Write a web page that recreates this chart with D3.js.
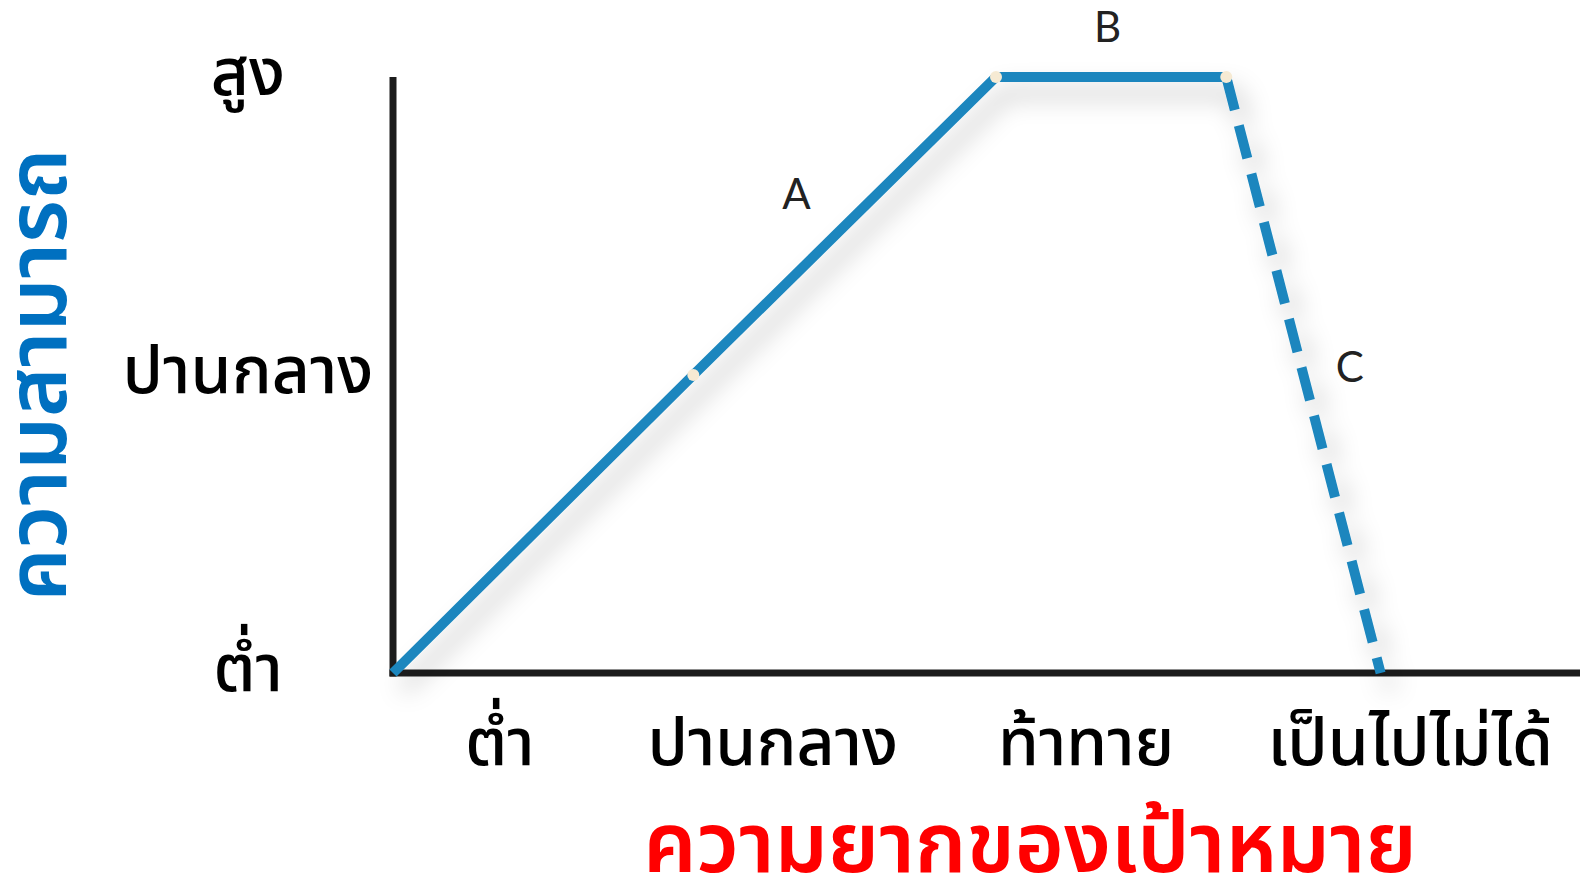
<!DOCTYPE html>
<html>
<head>
<meta charset="utf-8">
<script src="https://cdn.jsdelivr.net/npm/d3@7"></script>
<style>
  body { margin: 0; background: #fff; }
  #chart text { font-family: "Noto Sans Thai", "Noto Sans Thai UI", "Noto Sans", sans-serif; }
</style>
</head>
<body>
<div id="chart"></div>
<script>
// difficulty / ability both on a 0-100 scale
const xLabels = ["ต่ำ", "ปานกลาง", "ท้าทาย", "เป็นไปไม่ได้"];
const xLabelPos = [9, 32, 58.4, 85.7];
const yLabels = ["ต่ำ", "ปานกลาง", "สูง"];
const yLabelPos = [0, 50, 100];

const solidPts = [{ x: 0, y: 0 }, { x: 25.3, y: 50 }, { x: 50.8, y: 100 }, { x: 70.2, y: 100 }];
const dashPts = [{ x: 70.2, y: 100 }, { x: 83.2, y: 0 }];
const jointPts = [{ x: 25.3, y: 50 }, { x: 50.8, y: 100 }, { x: 70.2, y: 100 }];
const segLabels = [
  { t: "A", x: 34, y: 80.5 },
  { t: "B", x: 60.2, y: 108.5 },
  { t: "C", x: 80.6, y: 51.5 }
];

const xTitle = "ความยากของเป้าหมาย";
const yTitle = "ความสามารถ";

const width = 1580, height = 875;
const x0 = 393, yBase = 673, yTop = 77;

const xScale = d3.scaleLinear().domain([0, 100]).range([x0, width]);
const yScale = d3.scaleLinear().domain([0, 100]).range([yBase, yTop]);

const svg = d3.select("#chart").append("svg")
    .attr("width", width)
    .attr("height", height);

svg.append("rect").attr("width", width).attr("height", height).attr("fill", "#fff");

const defs = svg.append("defs");
defs.append("filter")
    .attr("id", "shadow")
    .attr("x", "-20%").attr("y", "-20%").attr("width", "140%").attr("height", "140%")
  .append("feDropShadow")
    .attr("dx", 10).attr("dy", 16)
    .attr("stdDeviation", 12)
    .attr("flood-color", "#000")
    .attr("flood-opacity", 0.22);

// axes
svg.append("line")
    .attr("x1", xScale(0)).attr("x2", xScale(0))
    .attr("y1", yScale(100)).attr("y2", yScale(0) + 3.5)
    .attr("stroke", "#1c1c1c").attr("stroke-width", 7);
svg.append("line")
    .attr("x1", xScale(0) - 3.5).attr("x2", xScale(100))
    .attr("y1", yScale(0)).attr("y2", yScale(0))
    .attr("stroke", "#1c1c1c").attr("stroke-width", 7);

const line = d3.line().x(d => xScale(d.x)).y(d => yScale(d.y));

const lineG = svg.append("g").attr("filter", "url(#shadow)");
lineG.append("path")
    .datum(solidPts)
    .attr("d", line)
    .attr("fill", "none")
    .attr("stroke", "#1b86be")
    .attr("stroke-width", 10)
    .attr("stroke-linejoin", "miter");
lineG.append("path")
    .datum(dashPts)
    .attr("d", line)
    .attr("fill", "none")
    .attr("stroke", "#1b86be")
    .attr("stroke-width", 10)
    .attr("stroke-dasharray", "34,16");

svg.selectAll(".joint")
  .data(jointPts)
  .join("circle")
    .attr("cx", d => xScale(d.x))
    .attr("cy", d => yScale(d.y))
    .attr("r", 6)
    .attr("fill", "#f6ead3");

svg.selectAll(".seg")
  .data(segLabels)
  .join("text")
    .attr("x", d => xScale(d.x))
    .attr("y", d => yScale(d.y))
    .attr("text-anchor", "middle")
    .attr("dominant-baseline", "central")
    .style("font-family", "Lato, sans-serif")
    .attr("font-size", 42)
    .attr("fill", "#222")
    .text(d => d.t);

// tick labels
svg.selectAll(".xl")
  .data(xLabels)
  .join("text")
    .attr("x", (d, i) => xScale(xLabelPos[i]))
    .attr("y", 765)
    .attr("text-anchor", "middle")
    .attr("font-size", 66)
    .attr("font-weight", 500)
    .attr("fill", "#000")
    .text(d => d);

svg.selectAll(".yl")
  .data(yLabels)
  .join("text")
    .attr("x", 248)
    .attr("y", (d, i) => yScale(yLabelPos[i]) + 18)
    .attr("text-anchor", "middle")
    .attr("font-size", 66)
    .attr("font-weight", 500)
    .attr("fill", "#000")
    .text(d => d);

// titles
svg.append("text")
    .attr("transform", `translate(66, ${(yScale(0) + yScale(100)) / 2}) rotate(-90)`)
    .attr("text-anchor", "middle")
    .attr("font-size", 84)
    .attr("font-weight", 600)
    .attr("fill", "#0070c0")
    .text(yTitle);

svg.append("text")
    .attr("x", 1030)
    .attr("y", 872)
    .attr("text-anchor", "middle")
    .attr("font-size", 84)
    .attr("font-weight", 600)
    .attr("fill", "#ff0000")
    .text(xTitle);
</script>
</body>
</html>
